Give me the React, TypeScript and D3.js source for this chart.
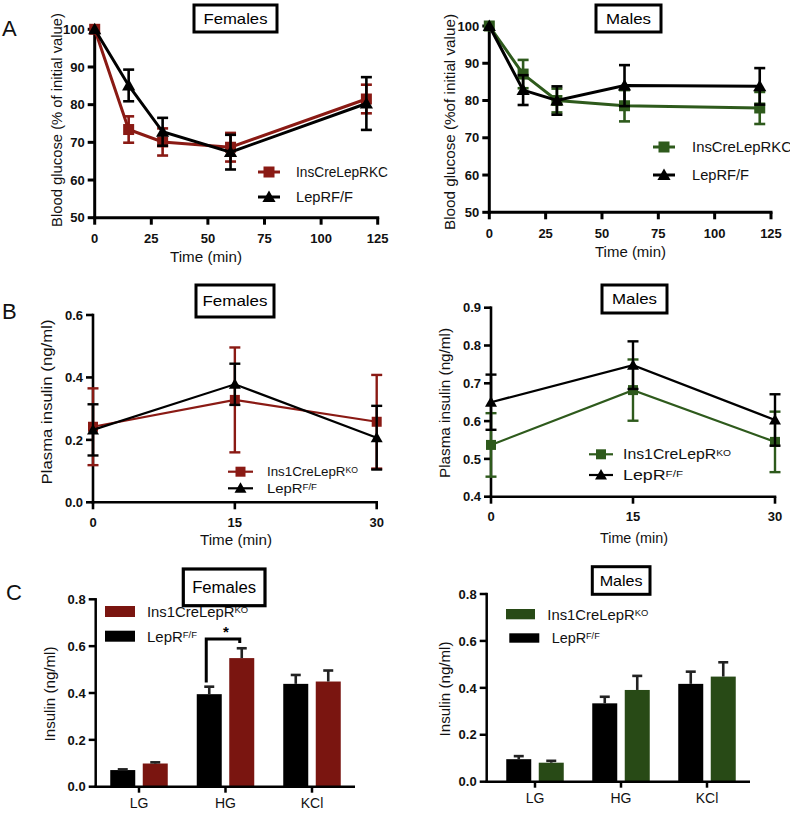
import React from "react";
import * as d3 from "d3";

const FONT = "'Liberation Sans', Arial, Helvetica, sans-serif";

// ---------- Panel A: glucose tolerance (% of initial value) ----------
const ogttTimes = [0, 15, 30, 60, 120];
const ogttFemaleKO = [100, 73.4, 70.1, 68.7, 81.5];
const ogttFemaleKOErr = [0, 3.5, 3.6, 3.8, 3.8];
const ogttFemaleWT = [100, 85.1, 72.8, 67.4, 80.3];
const ogttFemaleWTErr = [0, 4.2, 3.7, 4.6, 7.0];
const ogttMaleKO = [100, 87.1, 80.0, 78.6, 78.0];
const ogttMaleKOErr = [0, 3.8, 3.2, 4.2, 4.3];
const ogttMaleWT = [100, 82.8, 80.0, 84.0, 83.8];
const ogttMaleWTErr = [0, 4.0, 3.8, 5.5, 4.9];
const ogttXTicks = [0, 25, 50, 75, 100, 125];
const ogttYTicks = [50, 60, 70, 80, 90, 100];
const ogttLegend = ["InsCreLepRKC", "LepRF/F"];

// ---------- Panel B: plasma insulin ----------
const insTimes = [0, 15, 30];
const insFemaleKO = [0.242, 0.328, 0.258];
const insFemaleKOErr = [0.123, 0.168, 0.15];
const insFemaleWT = [0.232, 0.378, 0.207];
const insFemaleWTErr = [0.082, 0.066, 0.102];
const insMaleKO = [0.537, 0.682, 0.545];
const insMaleKOErr = [0.084, 0.081, 0.08];
const insMaleWT = [0.65, 0.748, 0.603];
const insMaleWTErr = [0.073, 0.063, 0.068];
const insXTicks = [0, 15, 30];
const insFemaleYTicks = [0.0, 0.2, 0.4, 0.6];
const insMaleYTicks = [0.4, 0.5, 0.6, 0.7, 0.8, 0.9];

// ---------- Panel C: islet insulin secretion ----------
const secCats = ["LG", "HG", "KCl"];
const secFemaleWT = [0.071, 0.395, 0.439];
const secFemaleWTErr = [0.003, 0.032, 0.038];
const secFemaleKO = [0.099, 0.549, 0.449];
const secFemaleKOErr = [0.005, 0.042, 0.047];
const secMaleWT = [0.096, 0.334, 0.417];
const secMaleWTErr = [0.013, 0.028, 0.052];
const secMaleKO = [0.081, 0.391, 0.448];
const secMaleKOErr = [0.008, 0.06, 0.061];
const secYTicks = [0.0, 0.2, 0.4, 0.6, 0.8];

const RED = "#8a1a14";
const GREEN = "#2e5a1c";
const BAR_RED = "#7a1510";
const BAR_GREEN = "#284a16";

type Label = { main: string; sup?: string };

function LabelText({ x, y, label, size, supSize, anchor = "start", len }: any) {
  return (
    <text
      x={x}
      y={y}
      fontFamily={FONT}
      fontSize={size}
      textAnchor={anchor}
      textLength={len}
      lengthAdjust={len ? "spacingAndGlyphs" : undefined}
      fill="#111"
    >
      {label.main}
      {label.sup ? (
        <tspan fontSize={supSize} dy={-(size - supSize) * 0.72}>
          {label.sup}
        </tspan>
      ) : null}
    </text>
  );
}

function Marker({ type, x, y, size, color }: any) {
  if (type === "square") {
    return <rect x={x - size / 2} y={y - size / 2} width={size} height={size} fill={color} />;
  }
  const h = size;
  return (
    <path
      d={`M${x},${y - h * 0.6} L${x + h * 0.6},${y + h * 0.45} L${x - h * 0.6},${y + h * 0.45} Z`}
      fill={color}
    />
  );
}

function TitleBox({ x0, x1, y0, y1, text, size, len, sw }: any) {
  return (
    <g>
      <rect x={x0} y={y0} width={x1 - x0} height={y1 - y0} fill="white" stroke="#000" strokeWidth={sw} />
      <text
        x={(x0 + x1) / 2}
        y={(y0 + y1) / 2 + size * 0.36}
        fontFamily={FONT}
        fontSize={size}
        textAnchor="middle"
        textLength={len}
        lengthAdjust="spacingAndGlyphs"
      >
        {text}
      </text>
    </g>
  );
}

function YLabel({ cx, cy, text, size, len }: any) {
  return (
    <text
      transform={`translate(${cx + size * 0.36},${cy}) rotate(-90)`}
      fontFamily={FONT}
      fontSize={size}
      textAnchor="middle"
      textLength={len}
      lengthAdjust="spacingAndGlyphs"
      fill="#111"
    >
      {text}
    </text>
  );
}

function XLabel({ cx, y, text, size, len }: any) {
  return (
    <text x={cx} y={y} fontFamily={FONT} fontSize={size} textAnchor="middle" textLength={len} lengthAdjust="spacingAndGlyphs" fill="#111">
      {text}
    </text>
  );
}

type Series = { values: number[]; errors: number[]; color: string; marker: string; label: Label };

function LinePanel(p: any) {
  const x = d3.scaleLinear().domain(p.xDomain).range(p.xRange);
  const y = d3.scaleLinear().domain(p.yDomain).range(p.yRange);
  const xs: number[] = p.xs;
  const fmt = p.yFmt || ((d: number) => String(d));
  const axisY = p.yRange[0];
  const axisX = p.xRange[0];
  return (
    <g>
      {/* axes */}
      <line x1={axisX} x2={axisX} y1={y(p.yDomain[1]) - p.aw / 2} y2={axisY + p.aw / 2} stroke="#000" strokeWidth={p.aw} />
      <line x1={axisX - p.aw / 2} x2={p.xRange[1] + p.aw / 2} y1={axisY} y2={axisY} stroke="#000" strokeWidth={p.aw} />
      {p.yTicks.map((t: number) => (
        <g key={"y" + t}>
          <line x1={axisX - p.tick} x2={axisX} y1={y(t)} y2={y(t)} stroke="#000" strokeWidth={p.aw} />
          <text x={axisX - p.tick - 3} y={y(t) + p.tickSize * 0.36} fontFamily={FONT} fontSize={p.tickSize} fontWeight="bold" textAnchor="end" fill="#111">
            {fmt(t)}
          </text>
        </g>
      ))}
      {p.xTicks.map((t: number) => (
        <g key={"x" + t}>
          <line x1={x(t)} x2={x(t)} y1={axisY} y2={axisY + p.tick} stroke="#000" strokeWidth={p.aw} />
          <text x={x(t)} y={axisY + p.xLabelOff} fontFamily={FONT} fontSize={p.tickSize} fontWeight="bold" textAnchor="middle" fill="#111">
            {t}
          </text>
        </g>
      ))}
      {/* series */}
      {p.series.map((s: Series, si: number) => {
        const line = d3
          .line<number>()
          .x((_, i) => x(xs[i]))
          .y((d) => y(d));
        return (
          <g key={"s" + si}>
            <path d={line(s.values) || ""} fill="none" stroke={s.color} strokeWidth={p.lw} />
            {s.values.map((v, i) =>
              s.errors[i] > 0 ? (
                <g key={"e" + i}>
                  <line x1={x(xs[i])} x2={x(xs[i])} y1={y(v + s.errors[i])} y2={y(v - s.errors[i])} stroke={s.color} strokeWidth={p.ew} />
                  <line x1={x(xs[i]) - p.cap / 2} x2={x(xs[i]) + p.cap / 2} y1={y(v + s.errors[i])} y2={y(v + s.errors[i])} stroke={s.color} strokeWidth={p.ew} />
                  <line x1={x(xs[i]) - p.cap / 2} x2={x(xs[i]) + p.cap / 2} y1={y(v - s.errors[i])} y2={y(v - s.errors[i])} stroke={s.color} strokeWidth={p.ew} />
                </g>
              ) : null
            )}
            {s.values.map((v, i) => (
              <Marker key={"m" + i} type={s.marker} x={x(xs[i])} y={y(v)} size={p.ms} color={s.color} />
            ))}
          </g>
        );
      })}
      {/* legend */}
      {p.series.map((s: Series, si: number) => {
        const ly = p.legend.ys[si];
        return (
          <g key={"l" + si}>
            <line x1={p.legend.x0} x2={p.legend.x1} y1={ly} y2={ly} stroke={s.color} strokeWidth={p.lw} />
            <Marker type={s.marker} x={(p.legend.x0 + p.legend.x1) / 2} y={ly} size={p.ms} color={s.color} />
            <LabelText x={p.legend.tx} y={ly + p.legend.size * 0.36} label={s.label} size={p.legend.size} supSize={p.legend.size * 0.65} len={p.legend.lens[si]} />
          </g>
        );
      })}
    </g>
  );
}

function BarPanel(p: any) {
  const y = d3.scaleLinear().domain(p.yDomain).range(p.yRange);
  const x0 = d3.scaleBand().domain(secCats).range(p.bandRange);
  const inner = d3.scaleBand().domain(["wt", "ko"]).range([-28.75, 28.75]).paddingInner(0.2308);
  const axisY = p.yRange[0];
  const fmt = d3.format(".1f");
  const groups = [
    { key: "wt", vals: p.wt, errs: p.wtErr, color: "#000" },
    { key: "ko", vals: p.ko, errs: p.koErr, color: p.koColor },
  ];
  const cx = (c: string) => (x0(c) as number) + x0.bandwidth() / 2;
  const bw = inner.bandwidth();
  return (
    <g>
      {groups.map((g) =>
        secCats.map((c, i) => {
          const bx = cx(c) + (inner(g.key) as number);
          const top = y(g.vals[i]);
          const et = y(g.vals[i] + g.errs[i]);
          return (
            <g key={g.key + c}>
              <rect x={bx} y={top} width={bw} height={axisY - top} fill={g.color} />
              <line x1={bx + bw / 2} x2={bx + bw / 2} y1={top} y2={et} stroke="#222" strokeWidth={2.6} />
              <line x1={bx + bw / 2 - 5} x2={bx + bw / 2 + 5} y1={et} y2={et} stroke="#222" strokeWidth={2.6} />
            </g>
          );
        })
      )}
      {/* axes */}
      <line x1={p.axisX0} x2={p.axisX0} y1={y(p.yDomain[1]) - 1.2} y2={axisY + 1.2} stroke="#000" strokeWidth={2.5} />
      <line x1={p.axisX0 - 1.2} x2={p.axisX1} y1={axisY} y2={axisY} stroke="#000" strokeWidth={2.5} />
      {secYTicks.map((t) => (
        <g key={"y" + t}>
          <line x1={p.axisX0 - 7} x2={p.axisX0} y1={y(t)} y2={y(t)} stroke="#000" strokeWidth={2.5} />
          <text x={p.axisX0 - 10} y={y(t) + 4.7} fontFamily={FONT} fontSize={13} fontWeight="bold" textAnchor="end" fill="#111">
            {fmt(t)}
          </text>
        </g>
      ))}
      {secCats.map((c) => (
        <g key={"x" + c}>
          <line x1={cx(c)} x2={cx(c)} y1={axisY} y2={axisY + 6} stroke="#000" strokeWidth={2.5} />
          <text x={cx(c)} y={axisY + 21.5} fontFamily={FONT} fontSize={14} textAnchor="middle" fill="#111">
            {c}
          </text>
        </g>
      ))}
      {/* significance bracket */}
      {p.bracket ? (() => {
        const b = p.bracket;
        const i = secCats.indexOf(b.cat);
        const lx = cx(b.cat) + (inner("wt") as number) + bw / 2 - 3;
        const rx = cx(b.cat) + (inner("ko") as number) + bw / 2 - 2;
        const by = y(b.y);
        const lBottom = y(p.wt[i] + p.wtErr[i] + 0.018);
        return (
          <g>
            <path d={`M${lx},${lBottom} L${lx},${by} L${rx},${by} L${rx},${by + 4}`} fill="none" stroke="#000" strokeWidth={3} />
            <text x={(lx + rx) / 2 + 3} y={by - 2} fontFamily={FONT} fontSize={15} fontWeight="bold" textAnchor="middle">
              {b.label}
            </text>
          </g>
        );
      })() : null}
      {/* legend */}
      {p.legend.map((l: any, i: number) => (
        <g key={"leg" + i}>
          <rect x={l.rx} y={l.ry} width={l.rw} height={l.rh} fill={l.color} />
          <LabelText x={l.tx} y={l.ry + l.rh / 2 + 15 * 0.36} label={l.label} size={15} supSize={9.5} len={l.len} />
        </g>
      ))}
    </g>
  );
}

export default function App() {
  const koLabel: Label = { main: "Ins1CreLepR", sup: "KO" };
  const wtLabel: Label = { main: "LepR", sup: "F/F" };
  return (
    <svg
      width={790}
      height={813}
      viewBox="0 0 790 813"
      style={{ position: "absolute", left: 0, top: 0, display: "block", background: "#fff" }}
    >
      <rect x={0} y={0} width={790} height={813} fill="#fff" />
      {/* panel letters */}
      <text x={2} y={36} fontFamily={FONT} fontSize={22} fill="#111">A</text>
      <text x={2} y={319} fontFamily={FONT} fontSize={22} fill="#111">B</text>
      <text x={6} y={600} fontFamily={FONT} fontSize={22} fill="#111">C</text>

      {/* ===== A Females ===== */}
      <TitleBox x0={194} x1={277} y0={5} y1={32} text="Females" size={15} len={64} sw={3} />
      <LinePanel
        xRange={[94.7, 377.7]}
        yRange={[217.7, 29.3]}
        xDomain={[0, 125]}
        yDomain={[50, 100]}
        xs={ogttTimes}
        xTicks={ogttXTicks}
        yTicks={ogttYTicks}
        aw={3}
        lw={3}
        ew={2.6}
        ms={11}
        cap={11}
        tick={7}
        tickSize={13}
        xLabelOff={25.5}
        series={[
          { values: ogttFemaleKO, errors: ogttFemaleKOErr, color: RED, marker: "square", label: { main: ogttLegend[0] } },
          { values: ogttFemaleWT, errors: ogttFemaleWTErr, color: "#000", marker: "triangle", label: { main: ogttLegend[1] } },
        ]}
        legend={{ x0: 258, x1: 280, tx: 296, ys: [172, 197], size: 14, lens: [92, 57] }}
      />
      <YLabel cx={57} cy={120} text="Blood glucose (% of initial value)" size={14} len={214} />
      <XLabel cx={206} y={262} text="Time (min)" size={14} len={72} />

      {/* ===== A Males ===== */}
      <TitleBox x0={596} x1={661} y0={5} y1={32} text="Males" size={15} len={45} sw={3} />
      <LinePanel
        xRange={[489.3, 771]}
        yRange={[212.3, 26]}
        xDomain={[0, 125]}
        yDomain={[50, 100]}
        xs={ogttTimes}
        xTicks={ogttXTicks}
        yTicks={ogttYTicks}
        aw={3}
        lw={3}
        ew={2.6}
        ms={11}
        cap={11}
        tick={7}
        tickSize={13}
        xLabelOff={25.5}
        series={[
          { values: ogttMaleKO, errors: ogttMaleKOErr, color: GREEN, marker: "square", label: { main: ogttLegend[0] } },
          { values: ogttMaleWT, errors: ogttMaleWTErr, color: "#000", marker: "triangle", label: { main: ogttLegend[1] } },
        ]}
        legend={{ x0: 653, x1: 675, tx: 692, ys: [147, 175], size: 14, lens: [100, 57] }}
      />
      <YLabel cx={450} cy={122} text="Blood glucose (%of initial value)" size={14} len={216} />
      <XLabel cx={630.5} y={257} text="Time (min)" size={14} len={71} />

      {/* ===== B Females ===== */}
      <TitleBox x0={196} x1={274} y0={285} y1={317} text="Females" size={15} len={65} sw={3} />
      <LinePanel
        xRange={[93, 376.7]}
        yRange={[502.3, 315]}
        xDomain={[0, 30]}
        yDomain={[0, 0.6]}
        xs={insTimes}
        xTicks={insXTicks}
        yTicks={insFemaleYTicks}
        yFmt={d3.format(".1f")}
        aw={2.6}
        lw={2.2}
        ew={2.4}
        ms={10}
        cap={11}
        tick={7}
        tickSize={13}
        xLabelOff={25}
        series={[
          { values: insFemaleKO, errors: insFemaleKOErr, color: RED, marker: "square", label: koLabel },
          { values: insFemaleWT, errors: insFemaleWTErr, color: "#000", marker: "triangle", label: wtLabel },
        ]}
        legend={{ x0: 228, x1: 253, tx: 267, ys: [471.7, 488.3], size: 13, lens: [91, 50] }}
      />
      <YLabel cx={47} cy={402} text="Plasma insulin (ng/ml)" size={14} len={165} />
      <XLabel cx={236} y={545} text="Time (min)" size={14} len={72} />

      {/* ===== B Males ===== */}
      <TitleBox x0={602} x1={667} y0={285} y1={313} text="Males" size={15} len={45} sw={3} />
      <LinePanel
        xRange={[491, 775]}
        yRange={[496.7, 307.7]}
        xDomain={[0, 30]}
        yDomain={[0.4, 0.9]}
        xs={insTimes}
        xTicks={insXTicks}
        yTicks={insMaleYTicks}
        yFmt={d3.format(".1f")}
        aw={2.6}
        lw={2.2}
        ew={2.4}
        ms={10}
        cap={11}
        tick={7}
        tickSize={13}
        xLabelOff={24.5}
        series={[
          { values: insMaleKO, errors: insMaleKOErr, color: GREEN, marker: "square", label: koLabel },
          { values: insMaleWT, errors: insMaleWTErr, color: "#000", marker: "triangle", label: wtLabel },
        ]}
        legend={{ x0: 589, x1: 613, tx: 623, ys: [454.3, 475], size: 14, lens: [108, 60] }}
      />
      <YLabel cx={445} cy={403} text="Plasma insulin (ng/ml)" size={14} len={150} />
      <XLabel cx={634} y={543} text="Time (min)" size={14} len={68} />

      {/* ===== C Females ===== */}
      <TitleBox x0={183.3} x1={265} y0={569} y1={605.7} text="Females" size={16} len={64} sw={3.2} />
      <BarPanel
        yRange={[786.7, 599.3]}
        yDomain={[0, 0.8]}
        bandRange={[95.75, 355.25]}
        axisX0={95.7}
        axisX1={355}
        wt={secFemaleWT}
        wtErr={secFemaleWTErr}
        ko={secFemaleKO}
        koErr={secFemaleKOErr}
        koColor={BAR_RED}
        bracket={{ cat: "HG", y: 0.63, label: "*" }}
        legend={[
          { rx: 105, ry: 606, rw: 30, rh: 11, color: BAR_RED, tx: 147, label: koLabel, len: 101 },
          { rx: 105, ry: 630.7, rw: 30, rh: 11, color: "#000", tx: 147, label: wtLabel, len: 50 },
        ]}
      />
      <YLabel cx={50} cy={694} text="Insulin (ng/ml)" size={14} len={95} />

      {/* ===== C Males ===== */}
      <TitleBox x0={592.3} x1={650} y0={566.7} y1={594.3} text="Males" size={15} len={43} sw={3} />
      <BarPanel
        yRange={[781.7, 594]}
        yDomain={[0, 0.8]}
        bandRange={[492, 750]}
        axisX0={486.7}
        axisX1={750}
        wt={secMaleWT}
        wtErr={secMaleWTErr}
        ko={secMaleKO}
        koErr={secMaleKOErr}
        koColor={BAR_GREEN}
        legend={[
          { rx: 506, ry: 609, rw: 29, rh: 10.3, color: BAR_GREEN, tx: 547.3, label: koLabel, len: 101 },
          { rx: 509.3, ry: 633.3, rw: 30, rh: 9.4, color: "#000", tx: 551.7, label: wtLabel, len: 48 },
        ]}
      />
      <YLabel cx={445} cy={689} text="Insulin (ng/ml)" size={14} len={95} />
    </svg>
  );
}
